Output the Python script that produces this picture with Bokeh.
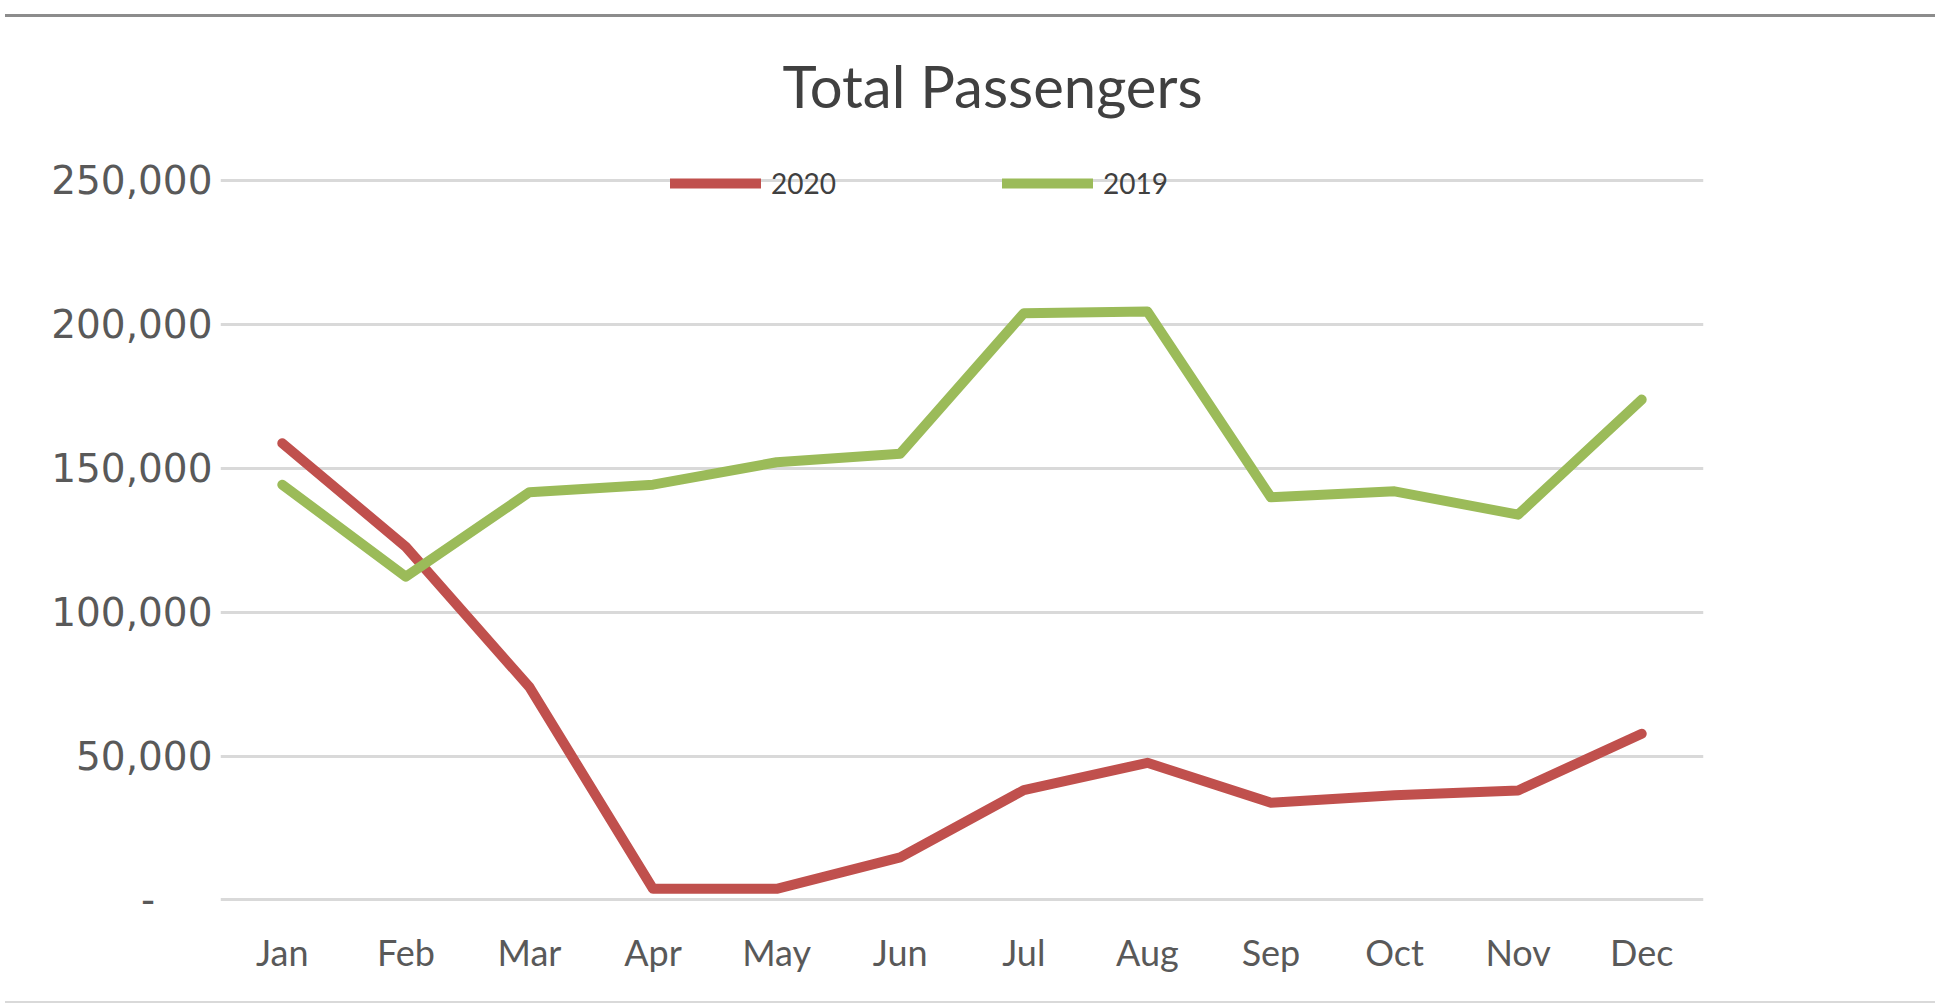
from bokeh.plotting import figure
from bokeh.models import FactorRange, Range1d, FixedTicker, Legend, LegendItem, Div, Spacer, Label
from bokeh.layouts import column
from bokeh.embed import file_html
from bokeh.resources import INLINE

months = ["Jan", "Feb", "Mar", "Apr", "May", "Jun", "Jul", "Aug", "Sep", "Oct", "Nov", "Dec"]
pax_2020 = [158800, 122800, 74000, 3900, 3900, 14800, 38200, 47700, 33800, 36400, 38100, 57800]
pax_2019 = [144400, 112400, 141800, 144400, 152200, 155200, 204000, 204600, 140000, 142100, 134000, 174000]
y_ticks = [0, 50000, 100000, 150000, 200000, 250000]
y_tick_labels = ["-\u00a0\u00a0\u00a0\u00a0\u2009", "50,000", "100,000", "150,000", "200,000", "250,000"]

FONT = "Lato"
YFONT = "DejaVu Sans"
RED = "#C0504D"
GREEN = "#9BBB59"

p = figure(
    width=1930, height=974,
    x_range=FactorRange(factors=months),
    y_range=Range1d(-1217, 305110),
    output_backend="svg", toolbar_location=None,
    min_border_left=220, min_border_right=227, min_border_top=0, min_border_bottom=93,
)
p.outline_line_color = None
p.background_fill_color = "white"
p.border_fill_color = "white"

title = Label(
    x=772, y=818, x_units="screen", y_units="screen", text="Total Passengers",
    text_font=FONT, text_font_size="58px", text_color="#404040",
    text_align="center", text_baseline="middle",
)
p.add_layout(title)

r20 = p.line(months, pax_2020, line_color=RED, line_width=10, line_join="round", line_cap="round")
r19 = p.line(months, pax_2019, line_color=GREEN, line_width=10, line_join="round", line_cap="round")

p.xgrid.grid_line_color = None
p.ygrid.grid_line_color = "#d9d9d9"
p.ygrid.grid_line_width = 3
p.yaxis.ticker = FixedTicker(ticks=y_ticks)
p.yaxis.major_label_overrides = {t: l for t, l in zip(y_ticks, y_tick_labels)}

for ax in (p.xaxis[0], p.yaxis[0]):
    ax.axis_line_color = None
    ax.major_tick_line_color = None
    ax.minor_tick_line_color = None
    ax.major_label_text_color = "#595959"
p.xaxis.major_label_text_font = FONT
p.xaxis.major_label_text_font_size = "36px"
p.yaxis.major_label_text_font = YFONT
p.yaxis.major_label_text_font_size = "39px"
p.xaxis.major_label_standoff = 20
p.yaxis.major_label_standoff = 2

legend = Legend(
    items=[LegendItem(label="2020", renderers=[r20]), LegendItem(label="2019", renderers=[r19])],
    orientation="horizontal", location=(450, 703),
    glyph_width=91, glyph_height=28, label_height=28, label_standoff=10, spacing=166,
    padding=0, margin=0, border_line_color=None, background_fill_alpha=0,
    label_text_font=FONT, label_text_font_size="28px", label_text_color="#404040",
)
p.add_layout(legend)

top_gap = Spacer(width=1930, height=9)
top_line = Div(text="", width=1930, height=3, styles={"background-color": "#8c8c8c"})
bottom_line = Div(text="", width=1930, height=2, styles={"background-color": "#d9d9d9"})
layout = column(top_gap, top_line, p, bottom_line, spacing=0)

open("out.html", "w").write(file_html(layout, INLINE))
